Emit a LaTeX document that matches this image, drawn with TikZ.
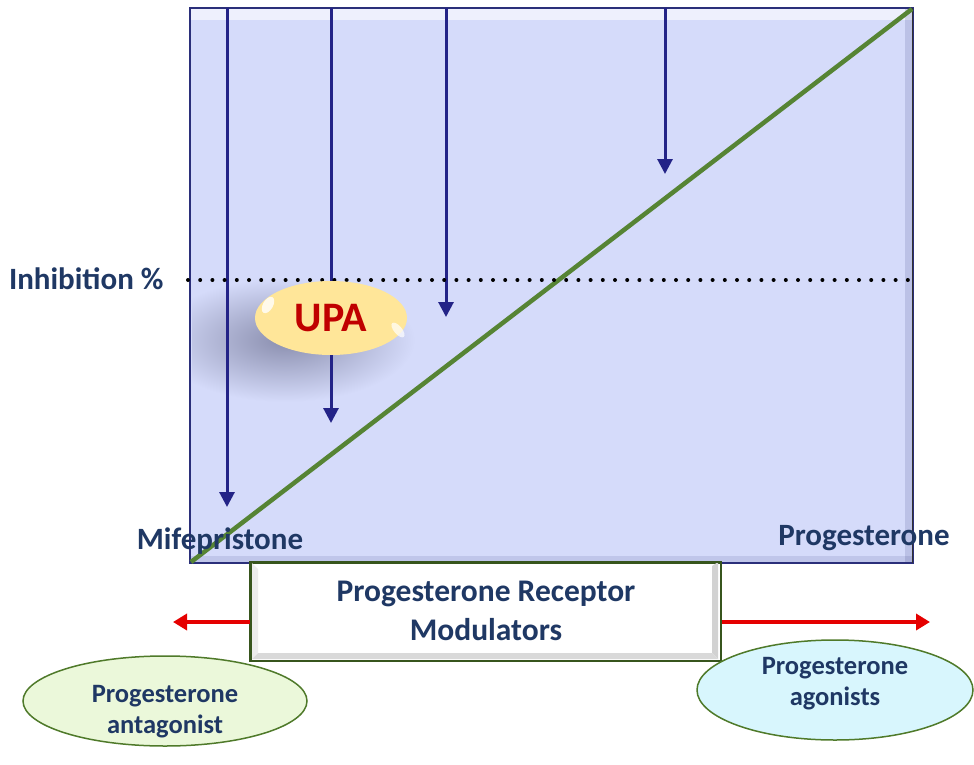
\documentclass[tikz,border=0pt]{standalone}
\usepackage{fontspec}
\setmainfont{Carlito}
\usetikzlibrary{arrows.meta,shapes.geometric}
\definecolor{panel}{HTML}{D5DBFA}
\definecolor{panelbd}{HTML}{2B2F7A}
\definecolor{navy}{HTML}{232387}
\definecolor{gline}{HTML}{568434}
\definecolor{txt}{HTML}{1F3864}
\definecolor{upafill}{HTML}{FFE699}
\definecolor{upared}{HTML}{C00000}
\definecolor{antfill}{HTML}{EBF8DA}
\definecolor{agofill}{HTML}{D8F6FD}
\definecolor{ellbd}{HTML}{4F7A2A}
\definecolor{redarr}{HTML}{E50000}
\definecolor{shad}{HTML}{8A8EAE}
\tikzset{
  dnarrow/.style={navy, line width=3pt, -{Triangle[width=15pt,length=15pt]}},
  lab/.style={font=\bfseries\fontsize{31}{36}\selectfont, text=txt},
  ellnode/.style={ellipse, draw=ellbd, line width=1.5pt, inner sep=0pt},
  elltxt/.style={align=center, font=\bfseries\fontsize{26.5}{31}\selectfont, text=txt, inner sep=0pt},
  redarrow/.style={redarr, line width=4pt, -{Triangle[width=16pt,length=14pt]}}
}
\begin{document}
\begin{tikzpicture}[x=1pt,y=-1pt]
\useasboundingbox (0,0) rectangle (974,765);
% panel
\node[fill=panel, minimum width=723pt, minimum height=555pt, inner sep=0pt, anchor=north west] (panel) at (190,8) {};
\fill[white, opacity=0.6] (191,9) rectangle (912,20);
\fill[panelbd, opacity=0.15] (905,9) rectangle (912,562);
\fill[panelbd, opacity=0.12] (191,556) rectangle (912,562);
% shadow of UPA
\begin{scope}
\clip (192,9) rectangle (912,562);
\shade[inner color=shad, outer color=panel] (285,340) ellipse (130pt and 62pt);
\end{scope}
\draw[panelbd, line width=2pt] (panel.north west) rectangle (panel.south east);
\draw[black!80, line width=1.5pt] (912.5,8) -- (912.5,563);
% arrows
\coordinate (t1) at (227,8);
\coordinate (e1) at (227,507);
\coordinate (t2) at (331,8);
\coordinate (e2) at (331,423);
\coordinate (t3) at (446,8);
\coordinate (e3) at (446,317);
\coordinate (t4) at (665,8);
\coordinate (e4) at (665,174);
\draw[dnarrow] (t1) -- (e1);
\draw[dnarrow] (t2) -- (e2);
\draw[dnarrow] (t3) -- (e3);
\draw[dnarrow] (t4) -- (e4);
% green line
\coordinate (g0) at (191,562);
\coordinate (g1) at (912,9);
\draw[gline, line width=4.5pt] (g0) -- (g1);
% dotted
\coordinate (d0) at (188,280);
\coordinate (d1) at (914,280);
\draw[black, line width=4pt, line cap=round, dash pattern=on 0pt off 12.2pt] (d0) -- (d1);
\node[lab, anchor=east] (inh) at (167,279) {Inhibition \%};
% UPA
\node[ellipse, fill=upafill, minimum width=152pt, minimum height=74pt, inner sep=0pt,
  font=\bfseries\fontsize{42}{48}\selectfont, text=upared] (upa) at (331,318) {UPA};
\fill[white, opacity=0.8, rotate around={-30:(268,305)}] (268,305) ellipse (5pt and 9pt);
\fill[white, opacity=0.7, rotate around={40:(398,330)}] (398,330) ellipse (4pt and 9pt);
% labels
\node[lab] (mife) at (220,541) {Mifepristone};
\node[lab] (prog) at (864,538) {Progesterone};
% central box
\node[draw=ellbd!70!black, line width=1.5pt, fill=white, minimum width=470pt, minimum height=98pt,
  inner sep=0pt, anchor=north west] (box) at (250,562) {};
\fill[gray!35] (712,566) -- (718,562) -- (718,659) -- (712,653) -- cycle;
\fill[gray!30] (252,653) -- (712,653) -- (718,659) -- (252,659) -- cycle;
\fill[gray!15] (252,563) -- (258,569) -- (258,653) -- (252,659) -- cycle;
\draw[ellbd!70!black, line width=1.5pt] (box.north west) rectangle (box.south east);
\node[lab, align=center, font=\bfseries\fontsize{31.5}{39}\selectfont] (boxtxt) at (486,611) {Progesterone Receptor\\Modulators};
% red arrows
\coordinate (la) at (173,622);
\coordinate (ra) at (930,622);
\draw[redarrow] (box.west |- la) -- (la);
\draw[redarrow] (box.east |- ra) -- (ra);
% ellipses
\node[ellnode, fill=antfill, minimum width=284pt, minimum height=90pt] (ant) at (165,701) {};
\node[elltxt] (anttxt) at (165,712) {Progesterone\\antagonist};
\node[ellnode, fill=agofill, minimum width=276pt, minimum height=100pt] (ago) at (835,690) {};
\node[elltxt] (agotxt) at (835,684) {Progesterone\\agonists};
\end{tikzpicture}
\end{document}
